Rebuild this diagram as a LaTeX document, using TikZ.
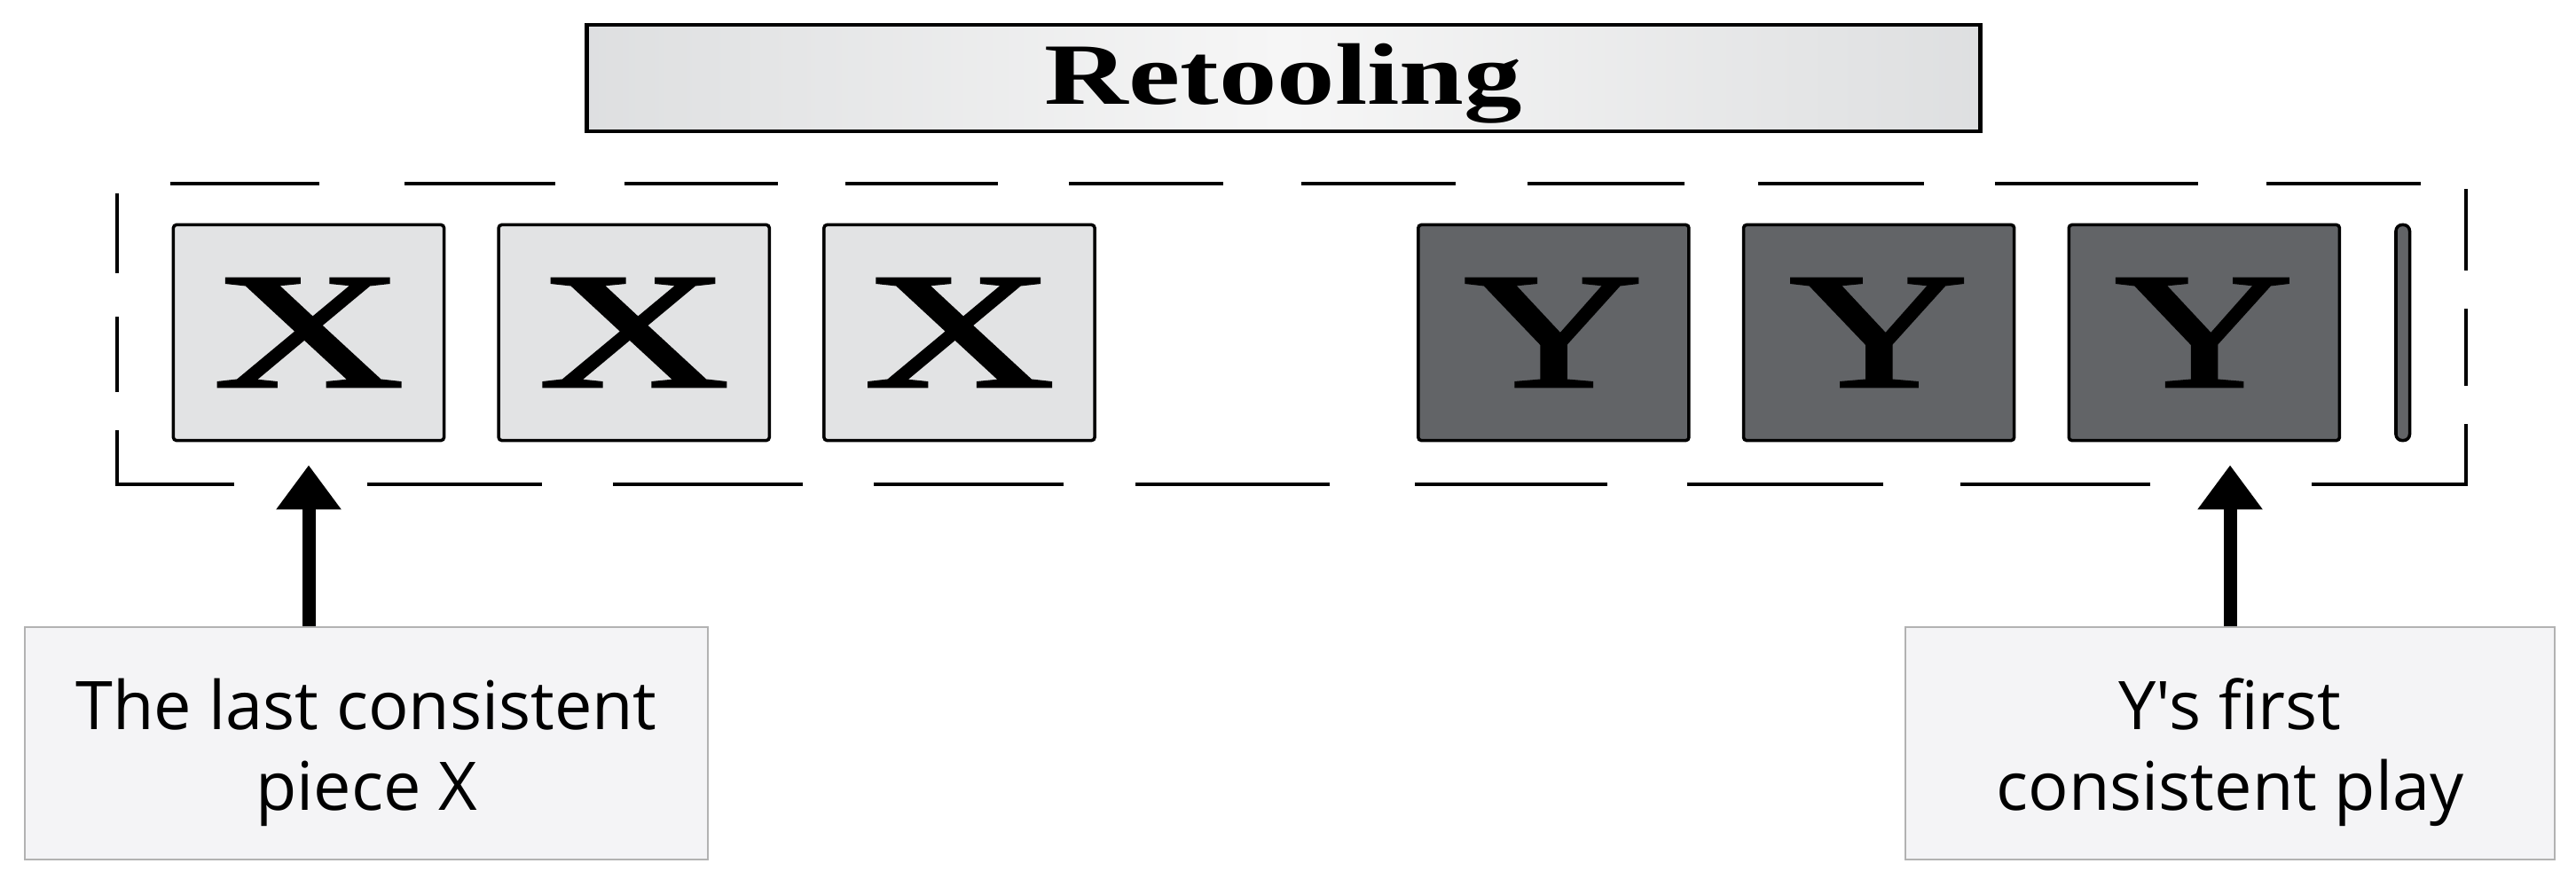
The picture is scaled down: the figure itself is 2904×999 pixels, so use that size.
\documentclass[tikz,border=0pt]{standalone}
\usepackage{fontspec}
\setmainfont{Liberation Serif}
\newfontfamily\notefont{Open Sans}[Ligatures=TeXOff]
\newfontfamily\piecefont{Liberation Serif}[FakeBold=1.5]
\usetikzlibrary{arrows.meta,positioning}
\definecolor{chalk}{rgb}{0.886, 0.890, 0.894}
\definecolor{slate}{rgb}{0.385, 0.393, 0.405}
\definecolor{paper}{rgb}{0.957, 0.957, 0.965}
\definecolor{rim}{rgb}{0.70, 0.70, 0.70}
\definecolor{barside}{rgb}{0.87, 0.875, 0.88}
\definecolor{barmid}{rgb}{0.965, 0.965, 0.965}
\newcommand{\widen}[2][1.5]{\scalebox{#1}[1]{#2}}
\newcommand{\lift}[1]{\rule{0pt}{#1}}
\tikzset{
  piece/.style={draw=black, line width=1pt, rounded corners=1pt, minimum width=3.05cm,
    minimum height=2.43cm, inner sep=0pt, font=\piecefont\fontsize{53}{53}\selectfont},
  xpiece/.style={piece, fill=chalk},
  ypiece/.style={piece, fill=slate},
  note/.style={draw=rim, line width=0.6pt, fill=paper, minimum height=2.62cm, align=center,
    font=\notefont\fontsize{21.5}{26}\selectfont},
  pointer/.style={-{Triangle[width=0.7cm,length=0.5cm]}, line width=0.15cm, shorten >=0.26cm},
  frame/.style={line width=1.3pt}
}

\begin{document}
\begin{tikzpicture}[x=0.01cm,y=-0.01cm]
\useasboundingbox (0,0) rectangle (2904,999);

\node[draw, line width=1.3pt, left color=barside, right color=barside, middle color=barmid,
  minimum width=15.7cm, minimum height=1.2cm, inner sep=0pt,
  font=\fontsize{28}{30}\selectfont\bfseries] (title) at (1447,88) {\lift{0.81cm}\widen[1.33]{Retooling}};

% dashed frame
\foreach \a/\b in {192/360,456/626,704/877,953/1125,1205/1379,1467/1641,1722/1899,1982/2169,2249/2478,2555/2729}
  \draw[frame] (\a,207) -- (\b,207);
\foreach \a/\b in {414/611,691/905,985/1199,1280/1499,1595/1812,1902/2123,2210/2424}
  \draw[frame] (\a,546) -- (\b,546);
\foreach \a/\b in {218/308,357/442} {
  \draw[frame] (132,\a) -- (132,\b);
}
\foreach \a/\b in {213/305,348/435} {
  \draw[frame] (2780,\a) -- (2780,\b);
}
\draw[frame] (132,485) -- (132,546) -- (264,546);
\draw[frame] (2606,546) -- (2780,546) -- (2780,478);

\node[xpiece] (x1) at (348,375) {\widen[1.6]{X}};
\node[xpiece, right=0.58cm of x1] (x2) {\widen[1.6]{X}};
\node[xpiece, right=0.58cm of x2] (x3) {\widen[1.6]{X}};
\node[ypiece, right=3.61cm of x3] (y1) {\widen{Y}};
\node[ypiece, right=0.58cm of y1] (y2) {\widen{Y}};
\node[ypiece, right=0.58cm of y2] (y3) {\widen{Y}};
\node[draw, line width=1pt, fill=slate, rounded corners=2pt, minimum width=0.155cm,
  minimum height=2.43cm, inner sep=0pt, right=0.6cm of y3] (tail) {};

\node[note, minimum width=7.7cm] (lastx) at (413,838) {\lift{0.78cm}The last consistent\\piece X};
\node[note, minimum width=7.32cm] (firsty) at (2514,838) {\lift{0.78cm}Y's first\\consistent play};

\draw[pointer] (x1.south |- lastx.north) -- (x1.south);
\draw[pointer] (firsty.north) -- (firsty.north |- y3.south);
\end{tikzpicture}
\end{document}
